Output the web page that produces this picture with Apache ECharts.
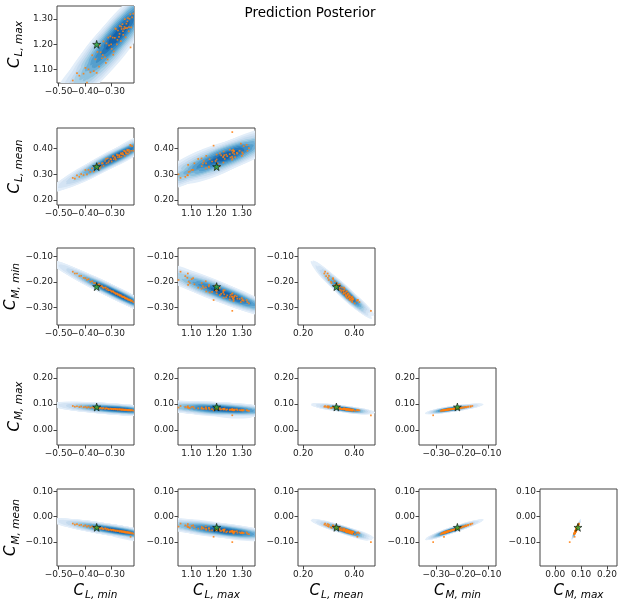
<!DOCTYPE html>
<html><head><meta charset="utf-8">
<script src="https://cdn.jsdelivr.net/npm/echarts@6/dist/echarts.min.js"></script>
<style>html,body{margin:0;padding:0;background:#fff}#c{width:620px;height:605px}</style>
</head><body><div id="c"></div><script>
// ---- posterior samples ----
const clMin = [-0.446,-0.438,-0.430,-0.421,-0.414,-0.405,-0.398,-0.392,-0.386,-0.379,-0.372,-0.366,-0.360,-0.352,-0.346,-0.340,-0.335,-0.329,-0.323,-0.318,-0.313,-0.308,-0.303,-0.298,-0.294,-0.290,-0.286,-0.282,-0.278,-0.274,-0.270,-0.267,-0.263,-0.260,-0.257,-0.254,-0.251,-0.248,-0.245,-0.242,-0.239,-0.236,-0.233,-0.230,-0.227,-0.224,-0.220,-0.216,-0.212,-0.206,-0.355,-0.343,-0.332,-0.320,-0.311,-0.300,-0.292,-0.284,-0.276,-0.268,-0.261,-0.255,-0.249,-0.244,-0.238,-0.232,-0.226,-0.150];
const clMax = [1.057,1.026,1.086,1.076,1.034,1.084,1.107,1.049,1.101,1.089,1.157,1.094,1.141,1.170,1.112,1.169,1.145,1.212,1.149,1.204,1.140,1.196,1.232,1.182,1.227,1.172,1.226,1.261,1.200,1.255,1.230,1.273,1.213,1.261,1.280,1.238,1.261,1.300,1.228,1.282,1.265,1.304,1.252,1.301,1.319,1.267,1.307,1.322,1.296,1.328,1.087,1.196,1.158,1.127,1.227,1.200,1.159,1.263,1.218,1.242,1.270,1.252,1.269,1.264,1.291,1.268,1.188,1.262];
const clMean = [0.286,0.283,0.296,0.290,0.301,0.297,0.317,0.300,0.317,0.309,0.323,0.311,0.332,0.327,0.343,0.330,0.343,0.333,0.352,0.343,0.362,0.352,0.360,0.350,0.369,0.359,0.367,0.357,0.377,0.366,0.375,0.367,0.382,0.369,0.384,0.377,0.392,0.372,0.389,0.381,0.396,0.381,0.396,0.386,0.415,0.392,0.410,0.392,0.420,0.402,0.337,0.323,0.343,0.360,0.346,0.358,0.372,0.363,0.374,0.371,0.379,0.379,0.390,0.384,0.392,0.391,0.412,0.465];
const cmMin = [-0.160,-0.167,-0.167,-0.177,-0.176,-0.184,-0.185,-0.192,-0.189,-0.199,-0.197,-0.204,-0.204,-0.211,-0.209,-0.217,-0.216,-0.223,-0.222,-0.229,-0.226,-0.232,-0.232,-0.238,-0.236,-0.241,-0.241,-0.246,-0.244,-0.250,-0.248,-0.253,-0.251,-0.257,-0.256,-0.259,-0.257,-0.263,-0.261,-0.265,-0.264,-0.269,-0.268,-0.271,-0.270,-0.274,-0.273,-0.278,-0.278,-0.283,-0.211,-0.213,-0.221,-0.222,-0.232,-0.235,-0.237,-0.244,-0.246,-0.252,-0.255,-0.258,-0.260,-0.264,-0.266,-0.268,-0.270,-0.312];
const cmMax = [0.092,0.089,0.091,0.088,0.090,0.087,0.089,0.086,0.088,0.085,0.087,0.084,0.086,0.085,0.083,0.085,0.082,0.084,0.081,0.083,0.082,0.080,0.082,0.080,0.081,0.079,0.081,0.079,0.080,0.078,0.080,0.078,0.079,0.077,0.079,0.077,0.078,0.076,0.078,0.076,0.077,0.075,0.077,0.075,0.076,0.075,0.076,0.074,0.075,0.073,0.086,0.084,0.083,0.083,0.081,0.081,0.080,0.080,0.079,0.079,0.078,0.078,0.077,0.077,0.076,0.076,0.075,0.056];
const cmMean = [-0.027,-0.031,-0.029,-0.034,-0.032,-0.037,-0.034,-0.039,-0.036,-0.041,-0.038,-0.044,-0.040,-0.045,-0.042,-0.047,-0.044,-0.049,-0.046,-0.051,-0.048,-0.052,-0.050,-0.054,-0.051,-0.055,-0.053,-0.056,-0.054,-0.057,-0.055,-0.059,-0.056,-0.060,-0.057,-0.061,-0.058,-0.062,-0.059,-0.063,-0.060,-0.064,-0.061,-0.065,-0.062,-0.066,-0.064,-0.067,-0.065,-0.069,-0.041,-0.046,-0.048,-0.047,-0.052,-0.052,-0.052,-0.055,-0.056,-0.058,-0.058,-0.059,-0.060,-0.062,-0.062,-0.063,-0.079,-0.100];
const truth = [-0.355, 1.200, 0.330, -0.218, 0.088, -0.042];
const varSub = ['L, min','L, max','L, mean','M, min','M, max','M, mean'];
const axisRanges = [[-0.506,-0.213],[1.047,1.352],[0.180,0.481],[-0.367,-0.068],[-0.059,0.239],[-0.194,0.109]];
const xTickVals = [[-0.5,-0.4,-0.3],[1.1,1.2,1.3],[0.2,0.4],[-0.3,-0.2,-0.1],[0,0.1,0.2],[-0.1,0,0.1]];
const yTickVals = [[-0.5,-0.4,-0.3],[1.1,1.2,1.3],[0.2,0.3,0.4],[-0.3,-0.2,-0.1],[0,0.1,0.2],[-0.1,0,0.1]];
const titleText = 'Prediction Posterior';

// ---- layout / style ----
const samples = [clMin, clMax, clMean, cmMin, cmMax, cmMean];
const colLeft = [57, 178, 298, 419, 540];
const rowTop = [6, 128, 248, 368, 489];
const W = 77, H = 77;
const BW = 0.95, FLOOR = 0.15, NLEV = 10;
const FONT = 'DejaVu Sans';
const fmt = v => (v < -1e-9 ? '\u2212' : '') + Math.abs(v).toFixed(2);
const rich = {
  c: {fontSize: 15, fontStyle: 'italic', fontFamily: FONT, color: '#000', lineHeight: 20, verticalAlign: 'middle'},
  s: {fontSize: 10.5, fontStyle: 'italic', fontFamily: FONT, color: '#000', padding: [9, 0, 0, 1], lineHeight: 12}
};
const nm = sub => '{c|C}{s|' + sub + '}';
// "Blues" colour ramp
const BLUES = [[247,251,255],[222,235,247],[198,219,239],[158,202,225],[107,174,214],[66,146,198],[33,113,181],[8,81,156],[8,48,107]];
function blues(t) {
  t = Math.max(0, Math.min(1, t)) * 8;
  const i = Math.min(7, Math.floor(t)), f = t - i, a = BLUES[i], b = BLUES[i + 1];
  return 'rgb(' + a.map((v, j) => Math.round(v + (b[j] - v) * f)).join(',') + ')';
}
const levelColor = [], levelThr = [];
for (let L = 1; L <= NLEV; L++) {
  levelThr.push(L / (NLEV + 1));
  levelColor.push(blues(0.1 + 0.7 * (L - 1) / (NLEV - 1)));
}

function kernelFor(xs, ys, xr, yr) {
  const kx = W / (xr[1] - xr[0]), ky = H / (yr[1] - yr[0]);
  const P = xs.map((x, i) => [(x - xr[0]) * kx, (yr[1] - ys[i]) * ky]);
  const n = P.length;
  let mx = 0, my = 0;
  P.forEach(p => { mx += p[0]; my += p[1]; });
  mx /= n; my /= n;
  let cxx = 0, cyy = 0, cxy = 0;
  P.forEach(p => { const dx = p[0] - mx, dy = p[1] - my; cxx += dx * dx; cyy += dy * dy; cxy += dx * dy; });
  cxx /= n - 1; cyy /= n - 1; cxy /= n - 1;
  const tr = cxx + cyy, det = cxx * cyy - cxy * cxy;
  const disc = Math.sqrt(Math.max(0, tr * tr / 4 - det));
  const l1 = tr / 2 + disc, l2 = Math.max(0, tr / 2 - disc);
  const th = 0.5 * Math.atan2(2 * cxy, cxx - cyy);
  const s1 = BW * Math.sqrt(l1);
  const s2 = Math.max(BW * Math.sqrt(l2), FLOOR * s1);
  const c = Math.cos(th), s = Math.sin(th);
  let dmax = 0;
  const D = P.map(p => {
    let d = 0;
    P.forEach(q => {
      const dx = q[0] - p[0], dy = q[1] - p[1];
      const a = dx * c + dy * s, b = -dx * s + dy * c;
      const m = a * a / (s1 * s1) + b * b / (s2 * s2);
      if (m < 9) d += Math.exp(-0.5 * m);
    });
    if (p[0] >= 0 && p[0] <= W && p[1] >= 0 && p[1] <= H) dmax = Math.max(dmax, d);
    return d;
  });
  const V = D.map(d => Math.min(1, d / Math.max(dmax, 1e-6)));
  return {s1: s1, s2: s2, rot: -th, V: V};
}

const grids = [], xAxes = [], yAxes = [], series = [];
let gi = 0;
function labelStyle(vals) {
  return {customValues: vals, formatter: fmt, fontSize: 9, color: '#222', margin: 4,
          fontFamily: FONT, hideOverlap: false, showMinLabel: true, showMaxLabel: true};
}
for (let r = 0; r < 5; r++) {
  const yv = r + 1;
  for (let c = 0; c <= r; c++) {
    const xv = c;
    grids.push({left: colLeft[c], top: rowTop[r], width: W, height: H, show: true,
                borderColor: '#444', borderWidth: 1, backgroundColor: '#fff'});
    const tv = xTickVals[xv];
    const evenT = tv.filter((v, i) => i % 2 === 0), oddT = tv.filter((v, i) => i % 2 === 1);
    const xa = {gridIndex: gi, type: 'value', min: axisRanges[xv][0], max: axisRanges[xv][1], position: 'bottom',
      axisLine: {show: false, onZero: false}, splitLine: {show: false},
      axisTick: {show: true, length: 3.5, lineStyle: {color: '#444'}, customValues: tv},
      axisLabel: labelStyle(evenT)};
    if (r === 4) {
      xa.name = nm(varSub[xv]); xa.nameLocation = 'middle'; xa.nameGap = 15;
      xa.nameTextStyle = {rich: rich};
    }
    const xIdx = xAxes.length;
    xAxes.push(xa);
    // second axis on the same grid carries the in-between tick labels
    xAxes.push({gridIndex: gi, type: 'value', min: axisRanges[xv][0], max: axisRanges[xv][1], position: 'bottom',
      axisLine: {show: false, onZero: false}, splitLine: {show: false}, axisTick: {show: false},
      axisLabel: Object.assign(labelStyle(oddT), {show: oddT.length > 0})});
    const ya = {gridIndex: gi, type: 'value', min: axisRanges[yv][0], max: axisRanges[yv][1],
      axisLine: {show: false, onZero: false}, splitLine: {show: false},
      axisTick: {show: true, length: 3.5, lineStyle: {color: '#444'}, customValues: yTickVals[yv]},
      axisLabel: labelStyle(yTickVals[yv])};
    if (c === 0) {
      ya.name = nm(varSub[yv]); ya.nameLocation = 'middle'; ya.nameGap = 32; ya.nameRotate = 90;
      ya.nameTextStyle = {rich: rich};
    }
    yAxes.push(ya);
    const pts = samples[xv].map((x, i) => [x, samples[yv][i]]);
    const k = kernelFor(samples[xv], samples[yv], axisRanges[xv], axisRanges[yv]);
    // filled density levels, lightest first (opaque, like contourf)
    for (let L = 0; L < NLEV; L++) {
      const thr = levelThr[L], col = levelColor[L];
      series.push({type: 'custom', xAxisIndex: xIdx, yAxisIndex: gi, data: pts, clip: true, silent: true, z: 1,
        renderItem: (params, api) => {
          const v = k.V[params.dataIndex];
          if (v <= thr) return null;
          const rho = Math.sqrt(2 * Math.log(v / thr));
          const p = api.coord([api.value(0), api.value(1)]);
          return {type: 'circle', shape: {cx: 0, cy: 0, r: rho}, x: p[0], y: p[1],
                  rotation: k.rot, scaleX: k.s1, scaleY: k.s2, z2: L,
                  style: {fill: col, stroke: null, lineWidth: 0}, silent: true};
        }});
    }
    series.push({type: 'scatter', xAxisIndex: xIdx, yAxisIndex: gi, data: pts, symbol: 'rect', symbolSize: 1.7,
      itemStyle: {color: '#ff7f0e', opacity: 0.85}, silent: true, z: 3});
    series.push({type: 'scatter', xAxisIndex: xIdx, yAxisIndex: gi, data: [[truth[xv], truth[yv]]],
      symbol: 'path://M0,-1L0.2245,-0.309L0.951,-0.309L0.363,0.118L0.588,0.809L0,0.382L-0.588,0.809L-0.363,0.118L-0.951,-0.309L-0.2245,-0.309Z',
      symbolSize: 8, itemStyle: {color: '#2ca02c', borderColor: '#000', borderWidth: 0.7}, silent: true, z: 4});
    gi++;
  }
}

const chart = echarts.init(document.getElementById('c'), null, {renderer: 'canvas'});
chart.setOption({
  animation: false,
  backgroundColor: '#fff',
  title: {text: titleText, left: 'center', top: 1,
          textStyle: {fontSize: 13.5, fontWeight: 'normal', color: '#000', fontFamily: FONT}},
  grid: grids, xAxis: xAxes, yAxis: yAxes, series: series
});
</script></body></html>
